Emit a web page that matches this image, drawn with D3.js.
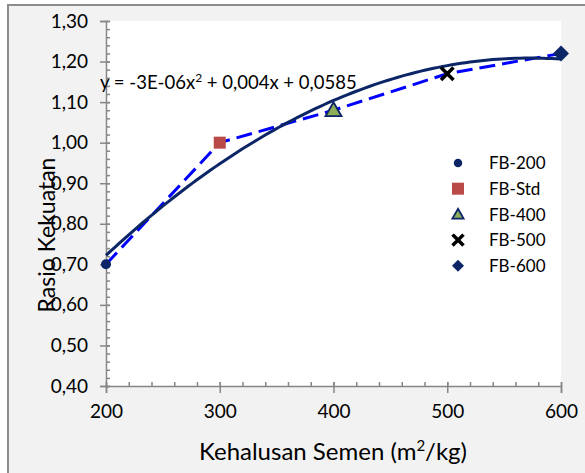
<!DOCTYPE html>
<html><head><meta charset="utf-8">
<script src="https://cdn.jsdelivr.net/npm/d3@7"></script>
<style>body{margin:0;background:#fff;overflow:hidden}text{font-family:Lato,"Open Sans",sans-serif;fill:#000}</style>
</head><body>
<svg id="c" width="585" height="473"></svg>
<script>
const categories = ["FB-200","FB-Std","FB-400","FB-500","FB-600"];
const xValues = [200,300,400,500,600];
const yValues = [0.70,1.00,1.08,1.17,1.22];
const xTickValues = [200,300,400,500,600];
const yTickValues = [0.40,0.50,0.60,0.70,0.80,0.90,1.00,1.10,1.20,1.30];
const equationParts = ["y = -3E-06x","2"," + 0,004x + 0,0585"];
const xTitle = ["Kehalusan Semen (m","2","/kg)"];
const yTitle = "Rasio Kekuatan";

const svg = d3.select("#c");
const W=585,H=473;
const plot = {l:106,r:561,t:21,b:386};
const axisColor = "#868686";

svg.append("rect").attr("x",0).attr("y",0).attr("width",W).attr("height",H).attr("fill","#fff");
svg.append("rect").attr("x",8).attr("y",5).attr("width",W+20).attr("height",H+20)
  .attr("fill","#f2f2f2").attr("stroke","#8c8c8c").attr("stroke-width",2);
svg.append("rect").attr("x",plot.l).attr("y",plot.t).attr("width",plot.r-plot.l).attr("height",plot.b-plot.t).attr("fill","#fff");

const x = d3.scaleLinear().domain([200,600]).range([plot.l,plot.r]);
const y = d3.scaleLinear().domain([0.4,1.3]).range([plot.b,plot.t]);

const fmt = d => d3.format(".2f")(d).replace(".",",");

const yMinor = d3.range(0.40,1.3001,0.02);
const xMinor = d3.range(200,600.01,20);
const yMinAx = svg.append("g").attr("transform",`translate(${plot.l},0)`)
  .call(d3.axisRight(y).tickValues(yMinor).tickSize(4).tickFormat(""));
const xMinAx = svg.append("g").attr("transform",`translate(0,${plot.b})`)
  .call(d3.axisTop(x).tickValues(xMinor).tickSize(4).tickFormat(""));
[yMinAx,xMinAx].forEach(g=>{g.select(".domain").remove();g.selectAll("line").attr("stroke",axisColor).attr("stroke-width",1.5);});

const yAx = svg.append("g").attr("transform",`translate(${plot.l},0)`)
  .call(d3.axisLeft(y).tickValues(yTickValues).tickSize(6).tickPadding(12).tickFormat(fmt));
const xAx = svg.append("g").attr("transform",`translate(0,${plot.b})`)
  .call(d3.axisBottom(x).tickValues(xTickValues).tickSize(7).tickPadding(12).tickFormat(d3.format("d")));
[yAx,xAx].forEach(g=>{
  g.select(".domain").attr("stroke",axisColor).attr("stroke-width",1.5);
  g.selectAll(".tick line").attr("stroke",axisColor).attr("stroke-width",1.5);
  g.selectAll(".tick text").attr("font-size",19).attr("fill","#000").style("font-family","Lato,sans-serif");
});
yAx.selectAll(".tick line").attr("x2",-6).attr("x1",4);
xAx.selectAll(".tick line").attr("y1",-4).attr("y2",7);

const xt = svg.append("text").attr("x",333).attr("y",460).attr("text-anchor","middle").attr("font-size",24);
xt.append("tspan").text(xTitle[0]);
xt.append("tspan").attr("font-size",15).attr("dy",-9).text(xTitle[1]);
xt.append("tspan").attr("dy",9).text(xTitle[2]);

svg.append("text").attr("transform","translate(55,235) rotate(-90)").attr("text-anchor","middle")
  .attr("font-size",23).text(yTitle);

const pts = xValues.map((v,i)=>({x:v,y:yValues[i],c:categories[i]}));

svg.append("path").datum(pts)
  .attr("d",d3.line().x(d=>x(d.x)).y(d=>y(d.y)))
  .attr("fill","none").attr("stroke","#0000ff").attr("stroke-width",3)
  .attr("stroke-dasharray","16,7");

function polyfit2(xs,ys){
  let S=[0,0,0,0,0],T=[0,0,0];
  xs.forEach((xv,i)=>{for(let k=0;k<5;k++)S[k]+=Math.pow(xv,k);for(let k=0;k<3;k++)T[k]+=ys[i]*Math.pow(xv,k);});
  const A=[[S[0],S[1],S[2],T[0]],[S[1],S[2],S[3],T[1]],[S[2],S[3],S[4],T[2]]];
  for(let i=0;i<3;i++){for(let j=i+1;j<3;j++){const f=A[j][i]/A[i][i];for(let k=i;k<4;k++)A[j][k]-=f*A[i][k];}}
  const c=[0,0,0];
  for(let i=2;i>=0;i--){let s=A[i][3];for(let k=i+1;k<3;k++)s-=A[i][k]*c[k];c[i]=s/A[i][i];}
  return c;
}
const xs0 = xValues.map(v=>(v-400)/100);
const coef = polyfit2(xs0,yValues);
const trend = d3.range(200,600.01,4).map(v=>{const u=(v-400)/100;return {x:v,y:coef[0]+coef[1]*u+coef[2]*u*u};});
svg.append("path").datum(trend)
  .attr("d",d3.line().x(d=>x(d.x)).y(d=>y(d.y)))
  .attr("fill","none").attr("stroke","#0b2566").attr("stroke-width",3);

const eq = svg.append("text").attr("x",100).attr("y",89).attr("font-size",18.5);
eq.append("tspan").text(equationParts[0]);
eq.append("tspan").attr("font-size",12).attr("dy",-7).text(equationParts[1]);
eq.append("tspan").attr("dy",7).text(equationParts[2]);

const navy="#0b2566";
function drawMarker(g,c,cx,cy,s){
  if(c==="FB-200") g.append("circle").attr("cx",cx).attr("cy",cy).attr("r",5*s).attr("fill",navy);
  else if(c==="FB-Std") g.append("rect").attr("x",cx-6*s).attr("y",cy-6*s).attr("width",12*s).attr("height",12*s).attr("fill","#b94a48");
  else if(c==="FB-400") g.append("path").attr("d",`M0,${-8*s}L${8*s},${6*s}L${-8*s},${6*s}Z`).attr("transform",`translate(${cx},${cy})`)
    .attr("fill","#8fad57").attr("stroke",navy).attr("stroke-width",1.8).attr("stroke-linejoin","miter");
  else if(c==="FB-500") g.append("path").attr("d",`M${-5*s},${-5*s}L${5*s},${5*s}M${-5*s},${5*s}L${5*s},${-5*s}`)
    .attr("transform",`translate(${cx},${cy})`).attr("stroke","#000").attr("stroke-width",3.5).attr("stroke-linecap","square");
  else g.append("path").attr("d",`M0,${-8*s}L${8*s},0L0,${8*s}L${-8*s},0Z`).attr("transform",`translate(${cx},${cy})`).attr("fill",navy);
}
const mk = svg.append("g");
pts.forEach(p=>drawMarker(mk,p.c,x(p.x),y(p.y),1));

const lg = svg.append("g");
categories.forEach((c,i)=>{
  const cy = 163 + i*25.7;
  drawMarker(lg,c,458,cy,c==="FB-200"?0.85:(c==="FB-Std"?1:(c==="FB-400"?0.7:(c==="FB-500"?0.85:0.75))));
  lg.append("text").attr("x",489).attr("y",cy).attr("dy","0.36em").attr("font-size",17).text(c);
});
</script>
</body></html>
